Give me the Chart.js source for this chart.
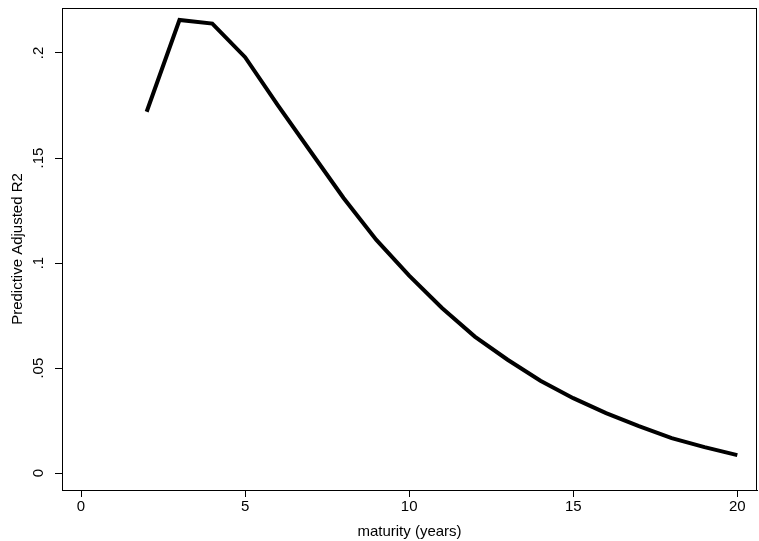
<!DOCTYPE html>
<html>
<head>
<meta charset="utf-8">
<script src="https://cdn.jsdelivr.net/npm/chart.js@4"></script>
<style>
  html, body { margin: 0; padding: 0; background: #fff; }
  #wrap { width: 759px; height: 541px; }
</style>
</head>
<body>
<div id="wrap"><canvas id="c"></canvas></div>
<script>
const maturity = [2, 3, 4, 5, 6, 7, 8, 9, 10, 11, 12, 13, 14, 15, 16, 17, 18, 19, 20];
const adjR2 = [0.172, 0.2157, 0.214, 0.198, 0.175, 0.153, 0.131, 0.111, 0.094, 0.0786, 0.065, 0.054,
  0.044, 0.0357, 0.0286, 0.0224, 0.0167, 0.0124, 0.0086];
const xTicks = [0, 5, 10, 15, 20];
const yTicks = [0, 0.05, 0.1, 0.15, 0.2];
const yLabels = ["0", ".05", ".1", ".15", ".2"];

const font = { family: "Liberation Sans, Arial, sans-serif", size: 15 };

// box around plot + y labels rotated counter-clockwise
const frame = {
  id: "frame",
  afterDraw(chart) {
    const { ctx, chartArea: a } = chart;
    const y = chart.scales.y;
    ctx.save();
    ctx.strokeStyle = "#000";
    ctx.lineWidth = 1;
    ctx.strokeRect(a.left + 0.5, a.top + 0.5, a.right - a.left - 1, a.bottom - a.top);
    ctx.fillStyle = "#000";
    ctx.font = font.size + "px " + font.family;
    ctx.textAlign = "center";
    ctx.textBaseline = "bottom";
    yTicks.forEach((v, i) => {
      ctx.save();
      ctx.translate(a.left - 16, y.getPixelForValue(v));
      ctx.rotate(-Math.PI / 2);
      ctx.fillText(yLabels[i], 0, 0);
      ctx.restore();
    });
    ctx.translate(25, (a.top + a.bottom) / 2);
    ctx.rotate(-Math.PI / 2);
    ctx.fillText("Predictive Adjusted R2", 0, 0);
    ctx.restore();
  }
};

new Chart(document.getElementById("c"), {
  type: "line",
  data: {
    datasets: [{
      data: maturity.map((m, i) => ({ x: m, y: adjR2[i] })),
      borderColor: "#000",
      borderWidth: 4,
      pointRadius: 0,
      tension: 0,
      fill: false
    }]
  },
  options: {
    responsive: true,
    maintainAspectRatio: false,
    animation: false,
    layout: { padding: { top: 8, right: 2, left: 0, bottom: 0 } },
    plugins: { legend: { display: false }, tooltip: { enabled: false } },
    scales: {
      x: {
        type: "linear",
        min: -0.58,
        max: 20.6,
        afterBuildTicks: (s) => { s.ticks = xTicks.map(v => ({ value: v })); },
        afterFit: (s) => { s.height = 51; },
        grid: { display: true, drawOnChartArea: false, drawTicks: true, tickLength: 7, tickColor: "#000" },
        border: { color: "#000" },
        ticks: { color: "#000", font, padding: 1, maxRotation: 0 },
        title: { display: true, text: "maturity (years)", color: "#000", font, padding: { top: -7, bottom: 0 } }
      },
      y: {
        min: -0.008,
        max: 0.2214,
        afterBuildTicks: (s) => { s.ticks = yTicks.map(v => ({ value: v })); },
        afterFit: (s) => { s.width = 62; },
        grid: { display: true, drawOnChartArea: false, drawTicks: true, tickLength: 7, tickColor: "#000" },
        border: { color: "#000" },
        ticks: { display: false }
      }
    }
  },
  plugins: [frame]
});
</script>
</body>
</html>
